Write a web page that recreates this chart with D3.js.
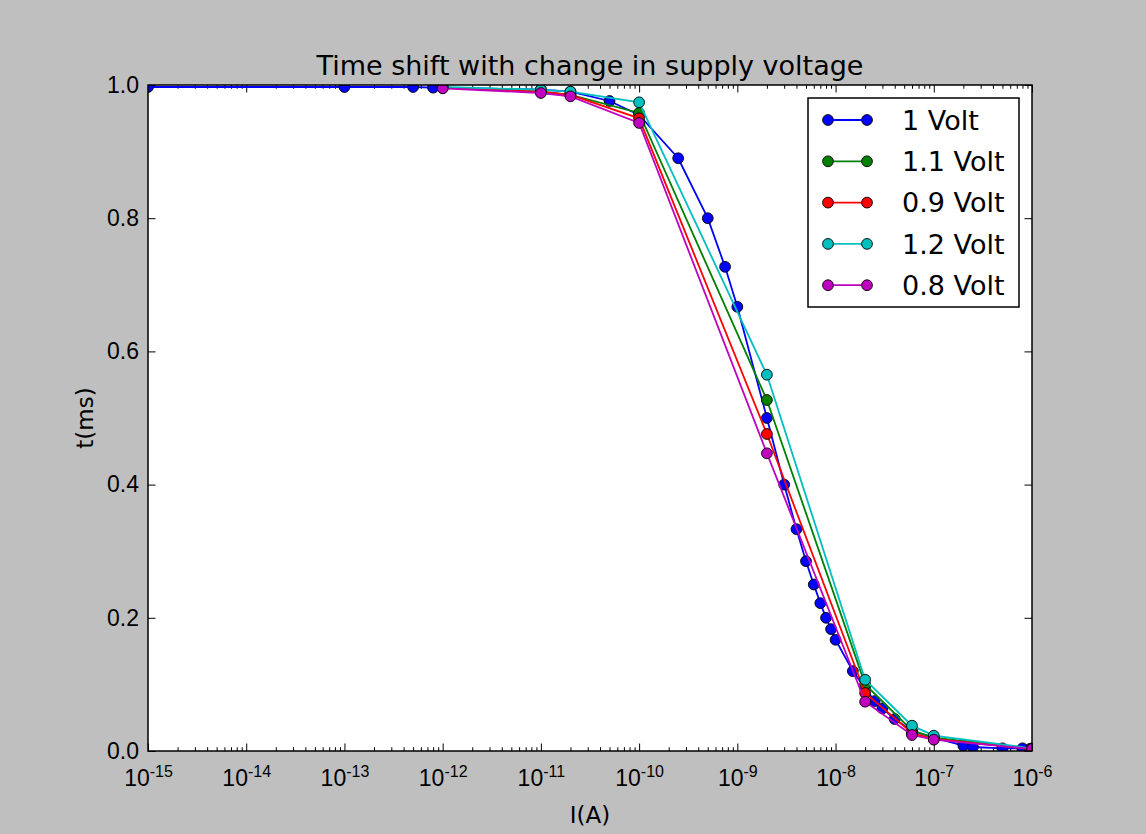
<!DOCTYPE html>
<html>
<head>
<meta charset="utf-8">
<script src="https://cdn.jsdelivr.net/npm/d3@7"></script>
<style>
  body { margin: 0; background: #bfbfbf; }
  svg { display: block; font-family: "DejaVu Sans", sans-serif; }
  .axis path.domain { display: none; }
  .axis line { stroke: #000; stroke-width: 1; }
  .axis text { fill: #000; font-size: 23px; }
</style>
</head>
<body>
<div id="chart"></div>
<script>
// series data
var seriesNames = ["1 Volt", "1.1 Volt", "0.9 Volt", "1.2 Volt", "0.8 Volt"];
var seriesColors = ["#0000ff", "#008000", "#ff0000", "#00bfbf", "#bf00bf"];

var currentBlue = [1e-15, 1e-13, 5e-13, 8e-13, 1e-12, 1e-11, 2e-11, 5e-11, 1e-10, 2.5e-10, 5e-10, 7.5e-10,
  1e-9, 2e-9, 3e-9, 4e-9, 5e-9, 6e-9, 7e-9, 8e-9, 9e-9, 1e-8, 1.5e-8, 2e-8, 2.5e-8, 3e-8, 4e-8, 6e-8, 1e-7,
  2e-7, 2.5e-7, 5e-7, 8e-7, 9.5e-7];
var timeBlue = [0.997, 0.997, 0.997, 0.996, 0.996, 0.993, 0.99, 0.976, 0.955, 0.89, 0.80, 0.727,
  0.667, 0.50, 0.40, 0.333, 0.285, 0.25, 0.222, 0.20, 0.183, 0.167, 0.12, 0.094, 0.075, 0.064, 0.048, 0.03, 0.02,
  0.008, 0.006, 0.004, 0.004, 0.003];

var currentOther = [1e-12, 1e-11, 2e-11, 1e-10, 2e-9, 2e-8, 6e-8, 1e-7, 1e-6];
var time11 = [0.996, 0.99, 0.985, 0.958, 0.527, 0.10, 0.031, 0.02, 0.003];
var time09 = [0.996, 0.99, 0.985, 0.95, 0.476, 0.087, 0.027, 0.018, 0.003];
var time12 = [0.997, 0.993, 0.99, 0.974, 0.565, 0.107, 0.038, 0.023, 0.004];
var time08 = [0.995, 0.988, 0.983, 0.943, 0.447, 0.074, 0.024, 0.017, 0.003];

var xTicks = [1e-15, 1e-14, 1e-13, 1e-12, 1e-11, 1e-10, 1e-9, 1e-8, 1e-7, 1e-6];
var yTicks = [0, 0.2, 0.4, 0.6, 0.8, 1.0];

var svgWidth = 1146;
var svgHeight = 834;
var margin = { top: 85, right: 114, bottom: 83, left: 148 };
var width = svgWidth - margin.left - margin.right;
var height = svgHeight - margin.top - margin.bottom;

var svg = d3.select("#chart").append("svg")
  .attr("width", svgWidth)
  .attr("height", svgHeight);

svg.append("rect")
  .attr("width", svgWidth).attr("height", svgHeight)
  .attr("fill", "#bfbfbf");

var chartGroup = svg.append("g")
  .attr("transform", `translate(${margin.left}, ${margin.top})`);

chartGroup.append("rect")
  .attr("width", width).attr("height", height)
  .attr("fill", "#fff");

svg.append("defs").append("clipPath").attr("id", "clip")
  .append("rect").attr("width", width).attr("height", height);

var xScale = d3.scaleLog().domain([1e-15, 1e-6]).range([0, width]);
var yScale = d3.scaleLinear().domain([0, 1]).range([height, 0]);

// minor ticks 2..9 in each decade
var minorTicks = [];
xTicks.slice(0, -1).forEach(function (d) {
  for (var k = 2; k <= 9; k++) minorTicks.push(d * k);
});

var majorLen = 7.5, minorLen = 3.75;

// bottom axis with superscript labels
var xAxis = chartGroup.append("g").classed("axis", true)
  .attr("transform", `translate(0, ${height})`)
  .call(d3.axisBottom(xScale).tickValues(xTicks).tickSize(-majorLen).tickPadding(14).tickFormat(""));

xAxis.selectAll(".tick text").each(function (d) {
  var t = d3.select(this).attr("text-anchor", "middle");
  t.append("tspan").attr("dy", "0.9em").text("10");
  t.append("tspan").attr("dy", "-0.55em").style("font-size", "16px").text("-" + Math.round(-Math.log10(d)));
});

chartGroup.append("g").classed("axis", true)
  .attr("transform", `translate(0, ${height})`)
  .call(d3.axisBottom(xScale).tickValues(minorTicks).tickSize(-minorLen).tickFormat(""));

chartGroup.append("g").classed("axis", true)
  .call(d3.axisTop(xScale).tickValues(xTicks).tickSize(-majorLen).tickFormat(""));
chartGroup.append("g").classed("axis", true)
  .call(d3.axisTop(xScale).tickValues(minorTicks).tickSize(-minorLen).tickFormat(""));

chartGroup.append("g").classed("axis", true)
  .call(d3.axisLeft(yScale).tickValues(yTicks).tickSize(-majorLen).tickPadding(9).tickFormat(d3.format(".1f")));
chartGroup.append("g").classed("axis", true)
  .attr("transform", `translate(${width}, 0)`)
  .call(d3.axisRight(yScale).tickValues(yTicks).tickSize(-majorLen).tickFormat(""));

// series
var seriesData = [
  { x: currentBlue, y: timeBlue },
  { x: currentOther, y: time11 },
  { x: currentOther, y: time09 },
  { x: currentOther, y: time12 },
  { x: currentOther, y: time08 }
];

var line = d3.line()
  .x(d => xScale(d[0]))
  .y(d => yScale(d[1]));

var plotGroup = chartGroup.append("g").attr("clip-path", "url(#clip)");

seriesData.forEach(function (s, i) {
  var pts = s.x.map((v, j) => [v, s.y[j]]);
  var g = plotGroup.append("g");
  g.append("path")
    .datum(pts)
    .attr("d", line)
    .attr("fill", "none")
    .attr("stroke", seriesColors[i])
    .attr("stroke-width", 1.8);
  g.selectAll("circle")
    .data(pts)
    .enter()
    .append("circle")
    .attr("cx", d => xScale(d[0]))
    .attr("cy", d => yScale(d[1]))
    .attr("r", 5.4)
    .attr("fill", seriesColors[i])
    .attr("stroke", "#000")
    .attr("stroke-width", 0.9);
});

// frame
chartGroup.append("rect")
  .attr("width", width).attr("height", height)
  .attr("fill", "none").attr("stroke", "#000").attr("stroke-width", 1.5);

// title and axis labels
svg.append("text")
  .attr("x", margin.left + width / 2).attr("y", 75)
  .attr("text-anchor", "middle")
  .style("font-size", "27px")
  .text("Time shift with change in supply voltage");

svg.append("text")
  .attr("x", margin.left + width / 2).attr("y", 823)
  .attr("text-anchor", "middle")
  .style("font-size", "23px")
  .text("I(A)");

svg.append("text")
  .attr("transform", `translate(93, ${margin.top + height / 2}) rotate(-90)`)
  .attr("text-anchor", "middle")
  .style("font-size", "23px")
  .text("t(ms)");

// legend
var legend = chartGroup.append("g")
  .attr("transform", `translate(${808 - margin.left}, ${98 - margin.top})`);

legend.append("rect")
  .attr("width", 211).attr("height", 209)
  .attr("fill", "#fff").attr("stroke", "#000").attr("stroke-width", 1.5);

seriesNames.forEach(function (name, i) {
  var row = legend.append("g").attr("transform", `translate(0, ${22 + i * 41.3})`);
  row.append("line")
    .attr("x1", 20).attr("x2", 59)
    .attr("stroke", seriesColors[i]).attr("stroke-width", 1.8);
  [20, 59].forEach(function (cx) {
    row.append("circle")
      .attr("cx", cx).attr("r", 5.4)
      .attr("fill", seriesColors[i])
      .attr("stroke", "#000").attr("stroke-width", 0.9);
  });
  row.append("text")
    .attr("x", 94).attr("dy", "0.36em")
    .style("font-size", "27px")
    .text(name);
});
</script>
</body>
</html>
